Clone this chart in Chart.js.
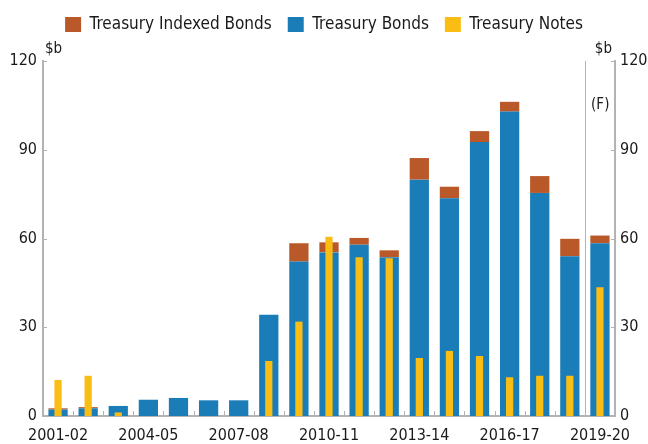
<!DOCTYPE html>
<html>
<head>
<meta charset="utf-8">
<script src="https://cdn.jsdelivr.net/npm/chart.js@4"></script>
<style>
  html, body { margin: 0; padding: 0; background: #fff; }
  #wrap { width: 648px; height: 444px; }
</style>
</head>
<body>
<div id="wrap"><canvas id="chart" width="648" height="444"></canvas></div>
<script>
const years = ['2001-02','2002-03','2003-04','2004-05','2005-06','2006-07','2007-08','2008-09','2009-10','2010-11',
  '2011-12','2012-13','2013-14','2014-15','2015-16','2016-17','2017-18','2018-19','2019-20'];
const bonds = [2.2, 2.6, 3.4, 5.5, 6.1, 5.3, 5.3, 34.2, 52.2, 55.3, 57.9, 53.7, 79.9, 73.6, 92.6, 102.9, 75.4, 54.0, 58.4];
const indexed = [0.4, 0.4, 0, 0, 0, 0, 0, 0, 6.2, 3.4, 2.3, 2.3, 7.3, 3.9, 3.7, 3.3, 5.7, 5.9, 2.6];
const notes = [12.2, 13.6, 1.2, 0, 0, 0, 0, 18.6, 31.9, 60.6, 53.7, 53.3, 19.6, 22.0, 20.3, 13.1, 13.6, 13.6, 43.5];
const yTicks = [0, 30, 60, 90, 120];

const FONT = "'DejaVu Sans Condensed', 'DejaVu Sans', sans-serif";
const axisGrey = '#b3b3b3';
const textCol = '#1a1a1a';

// inner tick marks, $b units, forecast divider
const extras = {
  id: 'extras',
  beforeInit(chart) {
    const fit = chart.legend.fit;
    chart.legend.fit = function () { fit.call(this); this.height = 61; };
  },
  afterDraw(chart) {
    const ctx = chart.ctx;
    const {top, bottom, left, right} = chart.chartArea;
    const x = chart.scales.x, y = chart.scales.y;
    ctx.save();
    ctx.strokeStyle = axisGrey;
    ctx.lineWidth = 1;
    ctx.beginPath();
    yTicks.forEach(v => {
      const py = Math.round(y.getPixelForValue(v)) + 0.5;
      ctx.moveTo(left, py); ctx.lineTo(left + 4, py);
      ctx.moveTo(right, py); ctx.lineTo(right - 4, py);
    });
    for (let i = 0; i <= years.length; i++) {
      const px = Math.round(x.getPixelForValue(i - 0.5)) + 0.5;
      ctx.moveTo(px, bottom); ctx.lineTo(px, bottom - 5);
    }
    const sep = Math.round(x.getPixelForValue(years.length - 1.5)) + 0.5;
    ctx.moveTo(sep, top); ctx.lineTo(sep, bottom);
    ctx.stroke();
    ctx.fillStyle = textCol;
    ctx.font = '15px ' + FONT;
    ctx.textBaseline = 'alphabetic';
    ctx.textAlign = 'left';
    ctx.fillText('$b', left + 2, top - 8);
    ctx.textAlign = 'right';
    ctx.fillText('$b', right - 3, top - 8);
    ctx.textAlign = 'center';
    ctx.fillText('(F)', (sep + right) / 2, top + 48);
    ctx.restore();
  }
};

new Chart(document.getElementById('chart').getContext('2d'), {
  type: 'bar',
  data: {
    labels: years,
    datasets: [
      { label: 'Treasury Bonds', data: bonds, backgroundColor: '#1a7db8', stack: 'b', order: 1, barPercentage: 0.8 },
      { label: 'Treasury Indexed Bonds', data: indexed, backgroundColor: '#b9592a', stack: 'b', order: 1, barPercentage: 0.8 },
      // own value axis so it overlaps the stack instead of sitting on it
      { label: 'Treasury Notes', data: notes, backgroundColor: '#f9bd13', stack: 'b', yAxisID: 'y2', order: 0, barPercentage: 0.3 }
    ]
  },
  options: {
    responsive: false,
    animation: false,
    layout: { padding: 0 },
    plugins: {
      tooltip: { enabled: false },
      legend: {
        position: 'top',
        labels: {
          font: { family: FONT, size: 17 },
          color: textCol,
          boxWidth: 16,
          boxHeight: 15,
          padding: 16,
          sort: (a, b) => [1, 0, 2][a.datasetIndex] - [1, 0, 2][b.datasetIndex]
        }
      }
    },
    scales: {
      x: {
        stacked: true,
        categoryPercentage: 1,
        grid: { display: false, drawTicks: false },
        border: { color: axisGrey, width: 2 },
        ticks: {
          autoSkip: false, maxRotation: 0, padding: 10,
          color: textCol, font: { family: FONT, size: 16 },
          callback: (v, i) => (i % 3 === 0 ? years[i] : '')
        },
        afterFit: s => { s.height = 28; }
      },
      y: {
        stacked: true, min: 0, max: 120,
        afterBuildTicks: s => { s.ticks = yTicks.map(v => ({ value: v })); },
        grid: { display: false, drawTicks: false },
        border: { color: axisGrey, width: 2 },
        ticks: { padding: 6, color: textCol, font: { family: FONT, size: 16 } },
        afterFit: s => { s.width = 43; }
      },
      y2: {
        position: 'right', min: 0, max: 120,
        afterBuildTicks: s => { s.ticks = yTicks.map(v => ({ value: v })); },
        grid: { display: false, drawTicks: false },
        border: { color: axisGrey, width: 2 },
        ticks: { padding: 5, color: textCol, font: { family: FONT, size: 16 } },
        afterFit: s => { s.width = 33; }
      }
    }
  },
  plugins: [extras]
});
</script>
</body>
</html>
